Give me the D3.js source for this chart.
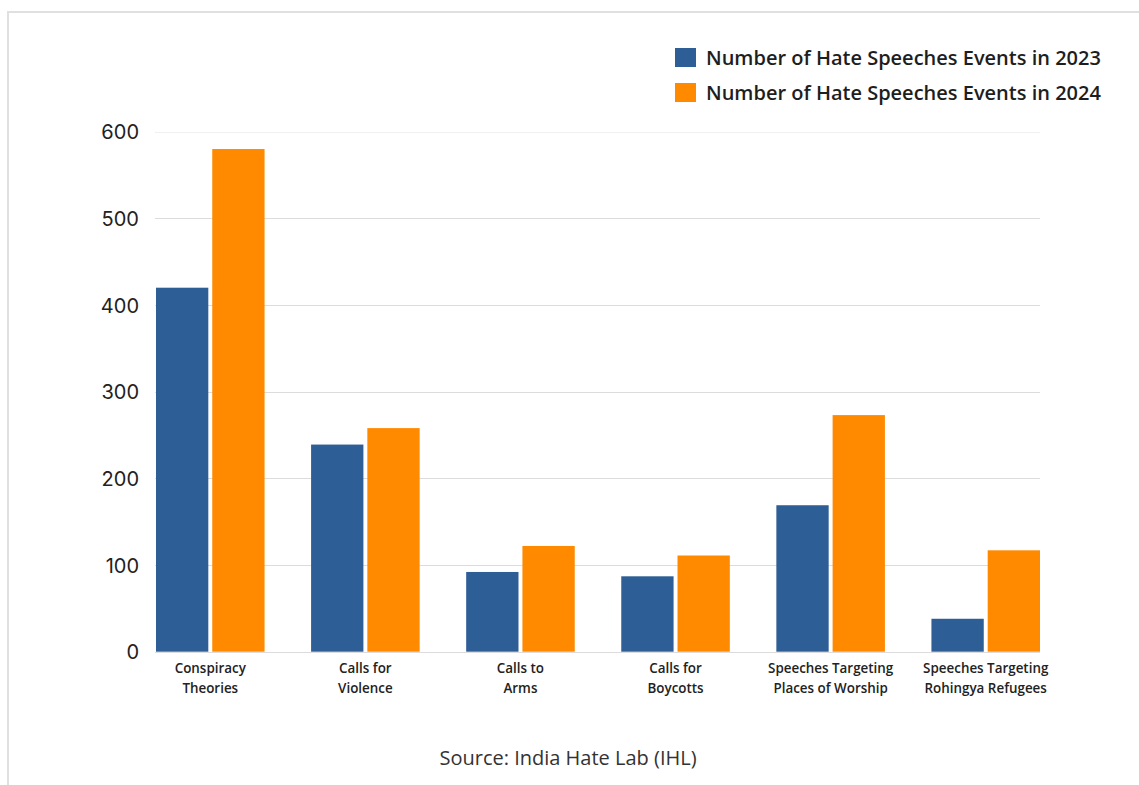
<!DOCTYPE html>
<html><head><meta charset="utf-8">
<script src="https://cdn.jsdelivr.net/npm/d3@7"></script>
<style>
html,body{margin:0;padding:0;background:#fff;}
svg{display:block;}
</style></head>
<body>
<svg id="chart" width="1139" height="785"></svg>
<script>
const categories = [
  ["Conspiracy", "Theories"],
  ["Calls for", "Violence"],
  ["Calls to", "Arms"],
  ["Calls for", "Boycotts"],
  ["Speeches Targeting", "Places of Worship"],
  ["Speeches Targeting", "Rohingya Refugees"]
];
const series2023 = [420, 239, 92, 87, 169, 38];
const series2024 = [580, 258, 122, 111, 273, 117];
const seriesNames = ["Number of Hate Speeches Events in 2023", "Number of Hate Speeches Events in 2024"];
const yTicks = [0, 100, 200, 300, 400, 500, 600];
const colors = ["#2E5E96", "#FF8A00"];
const sourceText = "Source: India Hate Lab (IHL)";

const svg = d3.select("#chart");

// frame
svg.append("path").attr("d", "M8,785 V12 H1139")
  .attr("fill", "none").attr("stroke", "#e0e0e0").attr("stroke-width", 2);

const x0 = d3.scaleBand().domain(d3.range(categories.length)).range([156, 1040]).paddingInner(0.3).paddingOuter(0);
const x1 = d3.scaleBand().domain([0, 1]).range([0, x0.bandwidth()]).paddingInner(0.07);
const y = d3.scaleLinear().domain([0, 600]).range([651.7, 131.7]);

// gridlines
svg.append("g").selectAll("line").data(yTicks).join("line")
  .attr("x1", 155).attr("x2", 1040)
  .attr("y1", d => Math.round(y(d)) + 0.5).attr("y2", d => Math.round(y(d)) + 0.5)
  .attr("stroke", d => d === 600 ? "#f0f0f0" : "#dcdcdc").attr("stroke-width", 1);

// y axis labels
const yAxis = d3.axisLeft(y).tickValues(yTicks).tickSize(0).tickPadding(0);
const ga = svg.append("g").attr("transform", "translate(139,0)").call(yAxis);
ga.select(".domain").remove();
ga.selectAll("text").attr("font-family", "Inter, 'Noto Sans', sans-serif")
  .attr("font-size", 20).attr("fill", "#222").attr("dy", "0.36em");

// bars
const data = categories.map((c, i) => [series2023[i], series2024[i]]);
const groups = svg.append("g").selectAll("g").data(data).join("g")
  .attr("transform", (d, i) => `translate(${x0(i)},0)`);
groups.selectAll("rect").data(d => d.map((v, k) => ({v, k}))).join("rect")
  .attr("x", d => x1(d.k)).attr("width", x1.bandwidth())
  .attr("y", d => y(d.v)).attr("height", d => y(0) - y(d.v))
  .attr("fill", d => colors[d.k]);

// category labels
const cl = svg.append("g").selectAll("text").data(categories).join("text")
  .attr("x", (d, i) => x0(i) + x0.bandwidth() / 2)
  .attr("y", 673)
  .attr("text-anchor", "middle")
  .attr("font-family", "'Open Sans', sans-serif").attr("font-size", 13.4).attr("font-weight", 600)
  .attr("fill", "#222");
cl.selectAll("tspan").data(d => d).join("tspan")
  .attr("x", function() { return d3.select(this.parentNode).attr("x"); })
  .attr("dy", (d, j) => j === 0 ? 0 : 19.5)
  .text(d => d);

// legend
const lg = svg.append("g").selectAll("g").data(seriesNames).join("g")
  .attr("transform", (d, i) => `translate(675,${48 + i * 35})`);
lg.append("rect").attr("width", 21).attr("height", 19).attr("fill", (d, i) => colors[i]);
lg.append("text").attr("x", 31).attr("y", 9.5).attr("dy", "0.35em")
  .attr("font-family", "'Open Sans', sans-serif").attr("font-size", 20).attr("font-weight", 600)
  .attr("fill", "#1e1e1e").text(d => d);

// source
svg.append("text").attr("x", 568).attr("y", 765).attr("text-anchor", "middle")
  .attr("font-family", "'Open Sans', sans-serif").attr("font-size", 20)
  .attr("fill", "#333").text(sourceText);
</script>
</body></html>
